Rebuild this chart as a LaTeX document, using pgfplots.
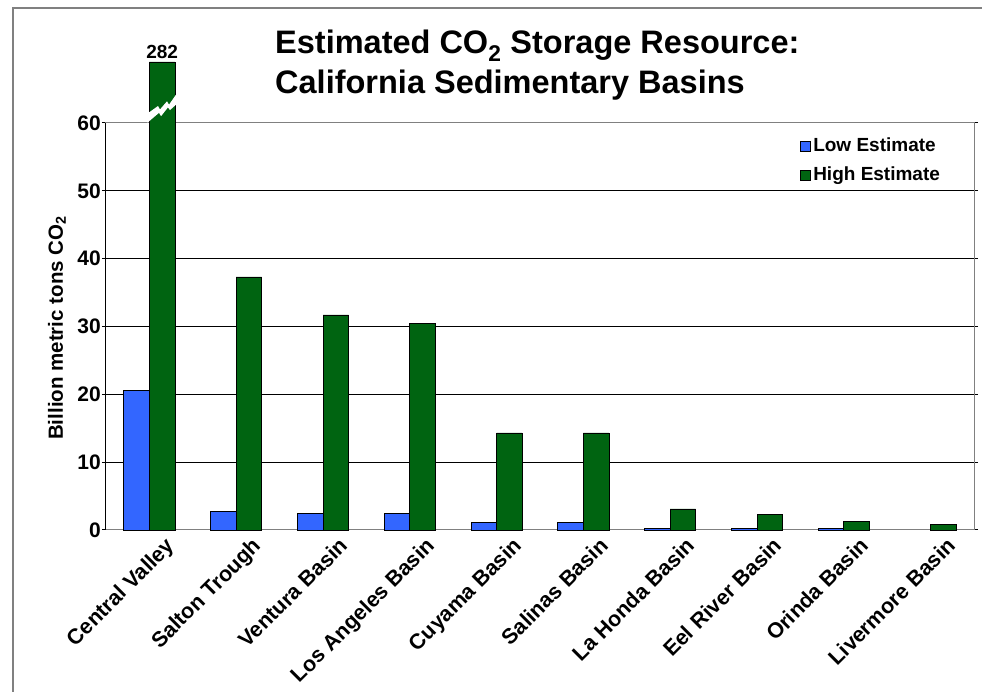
\documentclass[border=0pt]{standalone}
\usepackage{fontspec}
\setmainfont{Liberation Sans}
\usepackage{pgfplots}
\pgfplotsset{compat=1.18}
\definecolor{lowblue}{RGB}{51,102,255}
\definecolor{highgreen}{RGB}{0,100,17}
\definecolor{framegray}{RGB}{128,128,128}
\pgfplotsset{ybar legend/.style={/pgfplots/legend image code/.code={\draw[##1,draw=black,line width=0.8pt] (0pt,-4.5pt) rectangle (10pt,5.5pt);}}}
\begin{document}
\begin{tikzpicture}[x=1pt,y=1pt]
\path[use as bounding box] (-106,-162) rectangle (876,530);
\draw[framegray, line width=1.5pt] (-93,-165) -- (-93,522) -- (880,522);
\begin{axis}[
  at={(0,0)}, anchor=south west,
  scale only axis, width=868pt, height=407pt,
  xmin=-0.5, xmax=9.5, ymin=0, ymax=60,
  clip=false,
  ybar, bar width=0.294,
  xtick={0,...,9},
  xticklabels={Central Valley,Salton Trough,Ventura Basin,Los Angeles Basin,Cuyama Basin,Salinas Basin,La Honda Basin,Eel River Basin,Orinda Basin,Livermore Basin},
  x tick style={draw=none},
  ytick={0,10,...,60},
  ymajorgrids, grid style={black, line width=1pt},
  tick align=outside, major tick length=4pt,
  y tick style={black, line width=1pt},
  axis line style={framegray, line width=1pt},
  /pgf/number format/assume math mode=true,
  yticklabel style={font=\fontsize{21}{21}\selectfont\bfseries, inner sep=0pt, xshift=-1pt},
  xticklabel style={font=\fontsize{21.5}{21.5}\selectfont\bfseries, inner sep=0pt, anchor=north east, xshift=15pt, yshift=-2pt, rotate=45},
  legend cell align=left,
  legend style={at={(0.7995,0.9614)}, anchor=north west, draw=none, fill=none, inner sep=0pt, outer sep=0pt,
    row sep=12pt, column sep=2.5pt,
    nodes={inner sep=0pt, text height=13pt, text depth=4pt, font=\fontsize{19}{19}\selectfont\bfseries}},
]
\addplot[fill=lowblue, draw=black, line width=0.8pt, bar shift=-0.147] coordinates {
  (0,20.6) (1,2.7) (2,2.4) (3,2.4) (4,1.1) (5,1.1) (6,0.2) (7,0.2) (8,0.2)};
\addlegendentry{Low Estimate}
% Central Valley high estimate is 282; the bar is drawn truncated (broken) at 69
\addplot[fill=highgreen, draw=black, line width=0.8pt, bar shift=0.147] coordinates {
  (0,69) (1,37.3) (2,31.7) (3,30.5) (4,14.3) (5,14.3) (6,3.1) (7,2.3) (8,1.3) (9,0.85)};
\addlegendentry{High Estimate}
\fill[white] (axis cs:-0.022,61.4) -- (axis cs:0.099,62.5) -- (axis cs:0.122,62.0) -- (axis cs:0.203,63.2) -- (axis cs:0.226,62.7) -- (axis cs:0.324,64.5)
  -- (axis cs:0.324,62.9) -- (axis cs:0.237,61.9) -- (axis cs:0.214,62.3) -- (axis cs:0.134,61.0) -- (axis cs:0.111,61.5) -- (axis cs:-0.022,60.05) -- cycle;
\node[anchor=south, inner sep=0pt, yshift=3pt, font=\fontsize{19}{19}\selectfont\bfseries] at (axis cs:0.147,69) {282};
\draw[black, line width=1pt] (rel axis cs:0,0) -- (rel axis cs:0,1);
\end{axis}
\node[rotate=90, font=\fontsize{20.5}{20.5}\selectfont\bfseries] at (-49,202) {Billion metric tons CO\textsubscript{2}};
\node[anchor=base west, inner sep=0pt, font=\fontsize{32.5}{32.5}\selectfont\bfseries] at (169,476) {Estimated CO\textsubscript{2} Storage Resource:};
\node[anchor=base west, inner sep=0pt, font=\fontsize{32.5}{32.5}\selectfont\bfseries] at (169,436) {California Sedimentary Basins};
\end{tikzpicture}
\end{document}
